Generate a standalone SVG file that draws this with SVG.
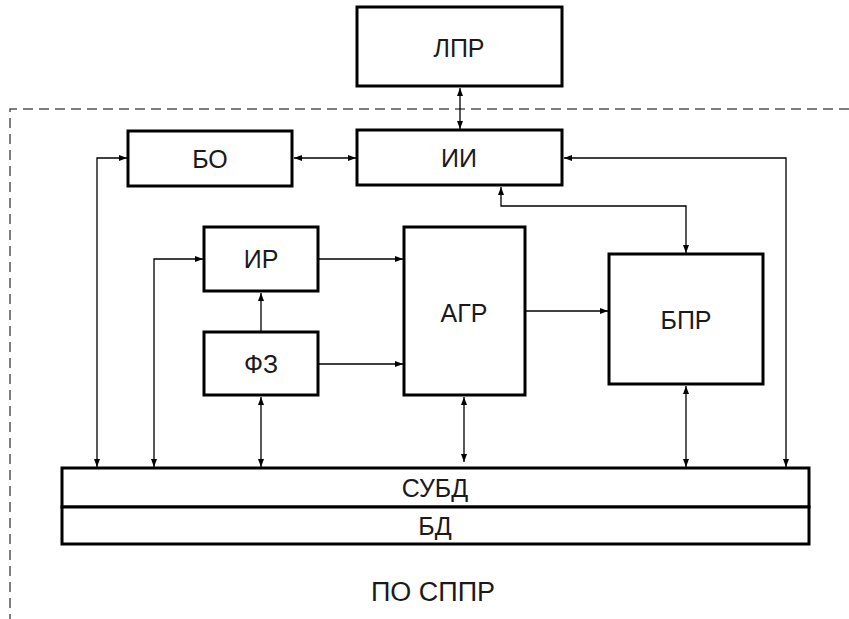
<svg xmlns="http://www.w3.org/2000/svg" width="849" height="619" viewBox="0 0 849 619">
<style>
.box{fill:#fff;stroke:#000;stroke-width:3}
.lbl{font-family:"Liberation Sans",Arial,sans-serif;font-size:25px;text-anchor:middle;fill:#1a1a1a}
.con{fill:none;stroke:#000;stroke-width:1.3}
.both{marker-start:url(#ah2);marker-end:url(#ah)}
.end{marker-end:url(#ah)}
.dash{fill:none;stroke:#555;stroke-width:1.5;stroke-dasharray:10 6}
</style>
<defs>
<marker id="ah" markerUnits="userSpaceOnUse" markerWidth="9" markerHeight="7" refX="8" refY="3" orient="auto"><path d="M0,0 L8,3 L0,6 z" fill="#000"/></marker>
<marker id="ah2" markerUnits="userSpaceOnUse" markerWidth="9" markerHeight="7" refX="8" refY="3" orient="auto-start-reverse"><path d="M0,0 L8,3 L0,6 z" fill="#000"/></marker>
</defs>
<rect width="849" height="619" fill="#fff"/>
<path class="dash" d="M849 109 H10 V619"/>
<g id="connectors">
<path class="con both" d="M460 88 V129"/>
<path class="con both" d="M294 158 H356"/>
<path class="con both" d="M97 467 V158 H127"/>
<path class="con both" d="M154 467 V259 H203"/>
<path class="con both" d="M261 397 V467"/>
<path class="con end" d="M261 332 V293"/>
<path class="con end" d="M319 259 H403"/>
<path class="con end" d="M319 364 H403"/>
<path class="con end" d="M526 311 H608"/>
<path class="con both" d="M464 397 V462"/>
<path class="con both" d="M686 386 V467"/>
<path class="con both" d="M501 187 V206 H686 V253"/>
<path class="con both" d="M564 158 H786 V467"/>
</g>
<g id="lpr"><rect class="box" x="357" y="7" width="205" height="79"/><text class="lbl" x="459" y="57">ЛПР</text></g>
<g id="ii"><rect class="box" x="357" y="130" width="205" height="55"/><text class="lbl" x="459" y="167">ИИ</text></g>
<g id="bo"><rect class="box" x="128" y="131" width="164" height="55"/><text class="lbl" x="210" y="168">БО</text></g>
<g id="ir"><rect class="box" x="204" y="227" width="114" height="64"/><text class="lbl" x="261" y="268">ИР</text></g>
<g id="fz"><rect class="box" x="204" y="332" width="114" height="63"/><text class="lbl" x="261" y="373">ФЗ</text></g>
<g id="agr"><rect class="box" x="404" y="227" width="121" height="168"/><text class="lbl" x="464" y="322">АГР</text></g>
<g id="bpr"><rect class="box" x="609" y="254" width="154" height="130"/><text class="lbl" x="686" y="329">БПР</text></g>
<g id="subd"><rect class="box" x="62" y="468" width="747" height="39"/><text class="lbl" x="435" y="497">СУБД</text></g>
<g id="bd"><rect class="box" x="62" y="507" width="747" height="37"/><text class="lbl" x="435" y="535">БД</text></g>
<text class="lbl" x="433" y="601" style="font-size:27px">ПО СППР</text>
</svg>
